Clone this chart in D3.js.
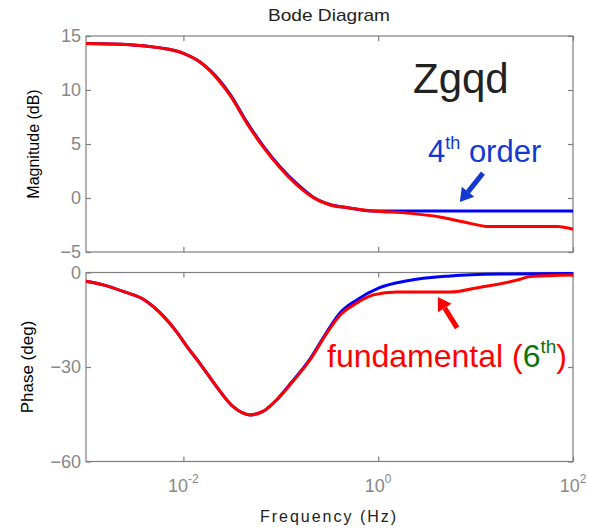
<!DOCTYPE html>
<html>
<head>
<meta charset="utf-8">
<script src="https://cdn.jsdelivr.net/npm/d3@7"></script>
<style>
  body { margin: 0; background: #fff; }
  text { font-family: "Liberation Sans", Arial, sans-serif; }
</style>
</head>
<body>
<div id="chart"></div>
<script>
// magnitude (dB)
const magFreqRed = [0.001, 0.00282, 0.00575, 0.01, 0.0148, 0.024, 0.0302, 0.045, 0.0656, 0.0982, 0.147, 0.214, 0.32, 0.49, 0.891, 2.0, 4.27, 7.41, 14.1, 69.2, 100];
const magRed     = [14.3, 14.2, 13.9, 13.4, 12.6, 10.7, 9.5, 6.9, 4.75, 2.8, 1.2, 0.06, -0.65, -0.9, -1.2, -1.4, -1.75, -2.2, -2.65, -2.65, -2.9];
const magFreqBlue = [0.001, 0.00282, 0.00575, 0.01, 0.0148, 0.024, 0.0302, 0.045, 0.0656, 0.0982, 0.147, 0.214, 0.32, 0.49, 0.891, 2.0, 100];
const magBlue     = [14.3, 14.2, 13.9, 13.4, 12.6, 10.8, 9.6, 7.0, 4.85, 2.9, 1.3, 0.1, -0.6, -0.9, -1.2, -1.2, -1.2];

// phase (deg)
const phFreqRed = [0.001, 0.00153, 0.00245, 0.00398, 0.0063, 0.0086, 0.0109, 0.0148, 0.0221, 0.0324, 0.0483, 0.0656, 0.0912, 0.124, 0.2, 0.298, 0.407, 0.603, 0.891, 1.55, 5.5, 10.2, 26.9, 36.3, 100];
const phRed     = [-2.8, -4.0, -6.1, -8.7, -14.0, -19.0, -23.5, -28.9, -36.4, -42.6, -45.2, -44.1, -40.4, -35.7, -27.7, -19.2, -13.5, -9.7, -7.1, -6.2, -6.2, -4.9, -2.4, -1.3, -0.8];
const phFreqBlue = [0.001, 0.00153, 0.00245, 0.00398, 0.0063, 0.0086, 0.0109, 0.0148, 0.0221, 0.0324, 0.0483, 0.0656, 0.0912, 0.124, 0.2, 0.298, 0.407, 0.603, 1.02, 2.0, 5.5, 17.8, 100];
const phBlue     = [-2.8, -4.0, -6.1, -8.7, -14.0, -19.0, -23.5, -28.9, -36.4, -42.6, -45.2, -44.1, -40.3, -35.5, -27.4, -18.8, -12.8, -8.7, -4.9, -2.6, -1.1, -0.5, -0.3];

const magTicks = [-5, 0, 5, 10, 15];
const phTicks = [-60, -30, 0];
const freqTicks = [1e-2, 1e0, 1e2];
const freqTickExp = ["-2", "0", "2"];

const W = 589, H = 531;
const left = 86, right = 573;
const magTop = 36, magBot = 252;
const phTop = 272.5, phBot = 461.5;
const gray = "#7f7f7f";
const labelGray = "#888";

const svg = d3.select("#chart").append("svg")
    .attr("width", W).attr("height", H);

const x = d3.scaleLog().domain([1e-3, 1e2]).range([left, right]);
const yMag = d3.scaleLinear().domain([-5, 15]).range([magBot, magTop]);
const yPh = d3.scaleLinear().domain([-60, 0]).range([phBot, phTop]);

function panel(y, top, bot, ticks) {
    // left axis with labels
    const gl = svg.append("g").attr("transform", `translate(${left},0)`)
        .call(d3.axisLeft(y).tickValues(ticks).tickSizeInner(-5).tickSizeOuter(0).tickPadding(5));
    gl.selectAll("text").attr("fill", labelGray).style("font-size", "18px");
    // right axis, ticks only
    svg.append("g").attr("transform", `translate(${right},0)`)
        .call(d3.axisRight(y).tickValues(ticks).tickSizeInner(-5).tickSizeOuter(0).tickFormat(""));
    // top and bottom x ticks
    svg.append("g").attr("transform", `translate(0,${bot})`)
        .call(d3.axisBottom(x).tickValues(freqTicks).tickSizeInner(-5).tickSizeOuter(0).tickFormat(""));
    svg.append("g").attr("transform", `translate(0,${top})`)
        .call(d3.axisTop(x).tickValues(freqTicks).tickSizeInner(-5).tickSizeOuter(0).tickFormat(""));
    svg.append("rect")
        .attr("x", left).attr("y", top)
        .attr("width", right - left).attr("height", bot - top)
        .attr("fill", "none").attr("stroke", gray).attr("stroke-width", 1.2);
}

panel(yMag, magTop, magBot, magTicks);
panel(yPh, phTop, phBot, phTicks);
svg.selectAll(".domain").remove();
svg.selectAll(".tick line").attr("stroke", gray).attr("stroke-width", 1.2);

// x tick labels 10^n
freqTicks.forEach((f, i) => {
    const t = svg.append("text")
        .attr("x", x(f)).attr("y", 492)
        .attr("text-anchor", "middle")
        .attr("fill", labelGray)
        .style("font-size", "18px");
    t.append("tspan").text("10");
    t.append("tspan").attr("dy", -9).style("font-size", "12px").text(freqTickExp[i]);
});

// curves
function curve(freqs, vals, y, color) {
    const pts = freqs.map((f, i) => [f, vals[i]]);
    svg.append("path")
        .datum(pts)
        .attr("fill", "none")
        .attr("stroke", color)
        .attr("stroke-width", 3)
        .attr("stroke-linejoin", "round")
        .attr("d", d3.line().x(d => x(d[0])).y(d => y(d[1])).curve(d3.curveMonotoneX));
}
curve(magFreqBlue, magBlue, yMag, "#0000ff");
curve(magFreqRed, magRed, yMag, "#ff0000");
curve(phFreqBlue, phBlue, yPh, "#0000ff");
curve(phFreqRed, phRed, yPh, "#ff0000");

// titles and axis labels
svg.append("text").attr("x", 329).attr("y", 21).attr("text-anchor", "middle")
    .attr("fill", "#222").style("font-size", "17px").attr("textLength", 122)
    .attr("lengthAdjust", "spacingAndGlyphs").text("Bode Diagram");
svg.append("text").attr("transform", `translate(39,${(magTop + magBot) / 2}) rotate(-90)`)
    .attr("text-anchor", "middle").attr("fill", "#000").style("font-size", "16px")
    .text("Magnitude (dB)");
svg.append("text").attr("transform", `translate(33,${(phTop + phBot) / 2}) rotate(-90)`)
    .attr("text-anchor", "middle").attr("fill", "#000").style("font-size", "17px")
    .text("Phase (deg)");
svg.append("text").attr("x", 329).attr("y", 522).attr("text-anchor", "middle")
    .attr("fill", "#222").style("font-size", "16px").style("letter-spacing", "2px")
    .text("Frequency (Hz)");

// annotations
svg.append("text").attr("x", 413).attr("y", 93)
    .attr("fill", "#222").style("font-size", "42px").text("Zgqd");

const blue = "#1438d0";
const t4 = svg.append("text").attr("x", 428).attr("y", 162)
    .attr("fill", blue).style("font-size", "31px");
t4.append("tspan").text("4");
t4.append("tspan").attr("dy", -13).style("font-size", "18px").text("th");
t4.append("tspan").attr("dy", 13).text(" order");

const tf = svg.append("text").attr("x", 327).attr("y", 367)
    .attr("fill", "#ff0000").style("font-size", "32px");
tf.append("tspan").text("fundamental (");
tf.append("tspan").attr("fill", "#0a730a").text("6");
tf.append("tspan").attr("fill", "#0a730a").attr("dy", -14).style("font-size", "19px").text("th");
tf.append("tspan").attr("dy", 14).text(")");

// arrows placed in data units
function arrow(tail, tip, y, color) {
    const x0 = x(tail[0]), y0 = y(tail[1]), x1 = x(tip[0]), y1 = y(tip[1]);
    const a = Math.atan2(y1 - y0, x1 - x0);
    const hl = 13, hw = 8;
    const bx = x1 - hl * Math.cos(a), by = y1 - hl * Math.sin(a);
    svg.append("line").attr("x1", x0).attr("y1", y0).attr("x2", bx).attr("y2", by)
        .attr("stroke", color).attr("stroke-width", 5);
    const px = -Math.sin(a) * hw, py = Math.cos(a) * hw;
    svg.append("polygon")
        .attr("points", `${x1},${y1} ${bx + px},${by + py} ${bx - px},${by - py}`)
        .attr("fill", color);
}
arrow([11.9, 2.3], [6.9, -0.37], yMag, blue);
arrow([6.46, -17.6], [4.1, -7.8], yPh, "#ff0000");
</script>
</body>
</html>
